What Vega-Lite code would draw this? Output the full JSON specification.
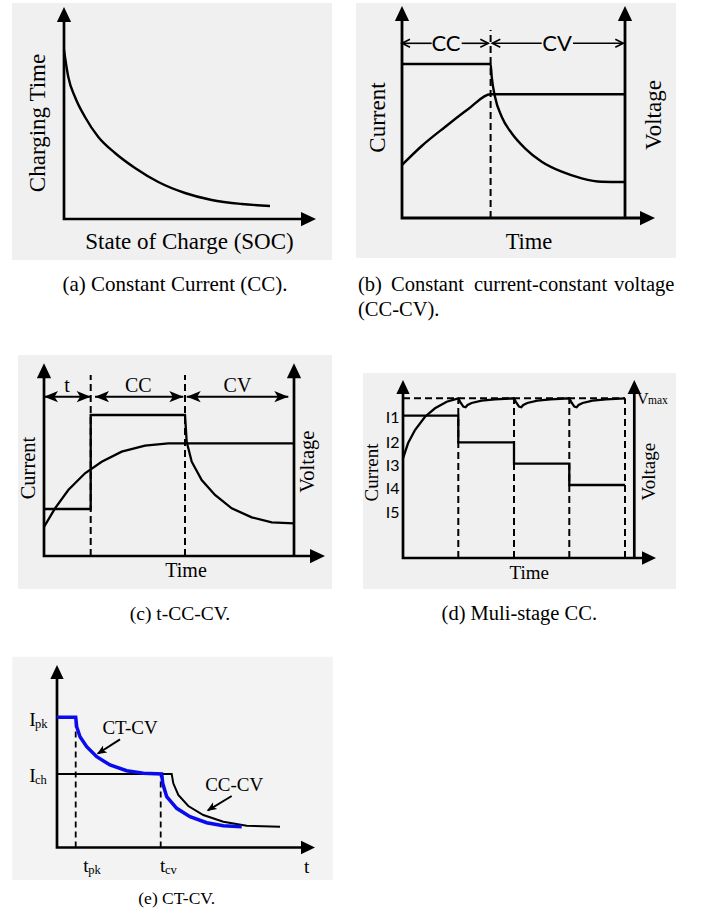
{
"$schema": "https://vega.github.io/schema/vega-lite/v6.json",
"padding": 0,
"spacing": 0,
"bounds": "flush",
"columns": 2,
"background": "white",
"config": {"view": {"stroke": null}, "concat": {"spacing": 0}, "text": {"font": "Liberation Serif", "color": "black"}},
"concat": [
{
"width": 351, "height": 320,
"encoding": {"x": {"field": "x", "type": "quantitative", "scale": {"domain": [-32, 143.5], "nice": false, "zero": false}, "axis": null},
             "y": {"field": "y", "type": "quantitative", "scale": {"domain": [-50.5, 109.5], "nice": false, "zero": false}, "axis": null}},
"layer": [
 {"data": {"values": [{"x": -26, "y": 108, "x2": 134, "y2": -20.5}]}, "mark": {"type": "rect", "color": "#f0f0f0"}, "encoding": {"x2": {"field": "x2"}, "y2": {"field": "y2"}}},
 {"data": {"values": [{"s": "ax", "x": 0, "y": 101}, {"s": "ax", "x": 0, "y": 0}, {"s": "ax", "x": 121, "y": 0}]}, "mark": {"type": "line", "color": "black", "strokeWidth": 2.7}, "encoding": {"detail": {"field": "s"}, "order": {"value": null}}},
 {"data": {"values": [{"s": "c", "x": 0, "y": 84.5}, {"s": "c", "x": 0.5, "y": 81}, {"s": "c", "x": 2.15, "y": 71}, {"s": "c", "x": 5.5, "y": 61}, {"s": "c", "x": 10.5, "y": 51}, {"s": "c", "x": 17.15, "y": 41}, {"s": "c", "x": 25.5, "y": 33}, {"s": "c", "x": 35.5, "y": 25.5}, {"s": "c", "x": 47.15, "y": 18.5}, {"s": "c", "x": 60.5, "y": 13}, {"s": "c", "x": 73.85, "y": 9.5}, {"s": "c", "x": 88.85, "y": 7.5}, {"s": "c", "x": 103, "y": 6.5}]}, "mark": {"type": "line", "color": "black", "strokeWidth": 2.4, "interpolate": "monotone"}, "encoding": {"detail": {"field": "s"}, "order": {"value": null}}},
 {"data": {"values": [{"x": 0, "y": 106}]}, "mark": {"type": "point", "shape": "M0,0L-0.95,2L0.95,2Z", "size": 225, "filled": true, "color": "black", "opacity": 1}},
 {"data": {"values": [{"x": 126, "y": 0}]}, "mark": {"type": "point", "shape": "M0,0L-2,-0.95L-2,0.95Z", "size": 225, "filled": true, "color": "black", "opacity": 1}},
 {"data": {"values": [{"x": -13, "y": 48, "t": "Charging Time"}]}, "mark": {"type": "text", "fontSize": 23, "angle": 270, "align": "center", "baseline": "middle"}, "encoding": {"text": {"field": "t"}}},
 {"data": {"values": [{"x": 62.75, "y": -11.5, "t": "State of Charge (SOC)"}]}, "mark": {"type": "text", "fontSize": 23, "align": "center", "baseline": "middle"}, "encoding": {"text": {"field": "t"}}},
 {"data": {"values": [{"x": 55.5, "y": -33, "t": "(a) Constant Current (CC)."}]}, "mark": {"type": "text", "fontSize": 21, "align": "center", "baseline": "middle"}, "encoding": {"text": {"field": "t"}}}
]
},
{
"width": 351, "height": 320,
"encoding": {"x": {"field": "x", "type": "quantitative", "scale": {"domain": [-25.5, 150], "nice": false, "zero": false}, "axis": null},
             "y": {"field": "y", "type": "quantitative", "scale": {"domain": [-51, 109], "nice": false, "zero": false}, "axis": null}},
"layer": [
 {"data": {"values": [{"x": -23, "y": 107.5, "x2": 137, "y2": -20}]}, "mark": {"type": "rect", "color": "#f0f0f0"}, "encoding": {"x2": {"field": "x2"}, "y2": {"field": "y2"}}},
 {"data": {"values": [{"s": "d", "x": 44.3, "y": 0}, {"s": "d", "x": 44.3, "y": 94}]}, "mark": {"type": "line", "color": "black", "strokeWidth": 2, "strokeDash": [7, 4]}, "encoding": {"detail": {"field": "s"}, "order": {"value": null}}},
 {"data": {"values": [{"s": "L", "x": 0, "y": 101}, {"s": "L", "x": 0, "y": 0}, {"s": "L", "x": 121.5, "y": 0}, {"s": "R", "x": 111.5, "y": 0}, {"s": "R", "x": 111.5, "y": 101}]}, "mark": {"type": "line", "color": "black", "strokeWidth": 2.8}, "encoding": {"detail": {"field": "s"}, "order": {"value": null}}},
 {"data": {"values": [
   {"s": "I", "x": 0, "y": 77}, {"s": "I", "x": 44.3, "y": 77}, {"s": "I", "x": 44.85, "y": 70.65}, {"s": "I", "x": 46.5, "y": 60.65}, {"s": "I", "x": 49.85, "y": 50.65}, {"s": "I", "x": 54.85, "y": 42.35}, {"s": "I", "x": 61.5, "y": 34.85}, {"s": "I", "x": 69.85, "y": 28.15}, {"s": "I", "x": 79.85, "y": 23.15}, {"s": "I", "x": 89.85, "y": 19.85}, {"s": "I", "x": 99.85, "y": 18.15}, {"s": "I", "x": 111.5, "y": 18},
   {"s": "V", "x": 0, "y": 26.5}, {"s": "V", "x": 9.85, "y": 36}, {"s": "V", "x": 21.5, "y": 45.5}, {"s": "V", "x": 33.15, "y": 54.5}, {"s": "V", "x": 44.3, "y": 61.85}, {"s": "V", "x": 111.5, "y": 61.85}]},
  "mark": {"type": "line", "color": "black", "strokeWidth": 2.4, "interpolate": "monotone"}, "encoding": {"detail": {"field": "s"}, "order": {"value": null}}},
 {"data": {"values": [{"s": "a1", "x": 0, "y": 87.35}, {"s": "a1", "x": 14.85, "y": 87.35}, {"s": "a2", "x": 29.85, "y": 87.35}, {"s": "a2", "x": 43.15, "y": 87.35}, {"s": "a3", "x": 45.15, "y": 87.35}, {"s": "a3", "x": 69.85, "y": 87.35}, {"s": "a4", "x": 85.5, "y": 87.35}, {"s": "a4", "x": 110.65, "y": 87.35}]}, "mark": {"type": "line", "color": "black", "strokeWidth": 1.6}, "encoding": {"detail": {"field": "s"}, "order": {"value": null}}},
 {"data": {"values": [{"x": 0, "y": 87.35}, {"x": 45.15, "y": 87.35}]}, "mark": {"type": "point", "shape": "M2,-1L0,0L2,1", "size": 64, "filled": false, "color": "black", "strokeWidth": 1.6, "opacity": 1}},
 {"data": {"values": [{"x": 43.15, "y": 87.35}, {"x": 110.65, "y": 87.35}]}, "mark": {"type": "point", "shape": "M-2,-1L0,0L-2,1", "size": 64, "filled": false, "color": "black", "strokeWidth": 1.6, "opacity": 1}},
 {"data": {"values": [{"x": 0, "y": 106}, {"x": 111.5, "y": 106}]}, "mark": {"type": "point", "shape": "M0,0L-0.95,2L0.95,2Z", "size": 225, "filled": true, "color": "black", "opacity": 1}},
 {"data": {"values": [{"x": 126.5, "y": 0}]}, "mark": {"type": "point", "shape": "M0,0L-2,-0.95L-2,0.95Z", "size": 225, "filled": true, "color": "black", "opacity": 1}},
 {"data": {"values": [{"x": -12, "y": 50.25, "t": "Current"}, {"x": 126, "y": 51.5, "t": "Voltage"}]}, "mark": {"type": "text", "fontSize": 23, "angle": 270, "align": "center", "baseline": "middle"}, "encoding": {"text": {"field": "t"}}},
 {"data": {"values": [{"x": 63.5, "y": -11.85, "t": "Time"}]}, "mark": {"type": "text", "fontSize": 22.5, "align": "center", "baseline": "middle"}, "encoding": {"text": {"field": "t"}}},
 {"data": {"values": [{"x": 22, "y": 87.1, "t": "CC"}, {"x": 77.5, "y": 87.1, "t": "CV"}]}, "mark": {"type": "text", "font": "Lato", "fontSize": 22, "align": "center", "baseline": "middle"}, "encoding": {"text": {"field": "t"}}},
 {"data": {"values": [{"x": -22, "y": -33.5, "t": "(b)"}, {"x": -5.5, "y": -33.5, "t": "Constant"}, {"x": 36, "y": -33.5, "t": "current-constant"}, {"x": 106, "y": -33.5, "t": "voltage"}, {"x": -22, "y": -46, "t": "(CC-CV)."}]}, "mark": {"type": "text", "fontSize": 20.5, "align": "left", "baseline": "middle"}, "encoding": {"text": {"field": "t"}}}
]
},
{
"width": 351, "height": 320,
"encoding": {"x": {"field": "x", "type": "quantitative", "scale": {"domain": [-22, 153.5], "nice": false, "zero": false}, "axis": null},
             "y": {"field": "y", "type": "quantitative", "scale": {"domain": [-42, 118], "nice": false, "zero": false}, "axis": null}},
"layer": [
 {"data": {"values": [{"x": -13, "y": 100.5, "x2": 144, "y2": -16.5}]}, "mark": {"type": "rect", "color": "#f0f0f0"}, "encoding": {"x2": {"field": "x2"}, "y2": {"field": "y2"}}},
 {"data": {"values": [{"s": "d1", "x": 23.35, "y": 0}, {"s": "d1", "x": 23.35, "y": 90.5}, {"s": "d2", "x": 70.5, "y": 0}, {"s": "d2", "x": 70.5, "y": 90.5}]}, "mark": {"type": "line", "color": "black", "strokeWidth": 2, "strokeDash": [7, 4]}, "encoding": {"detail": {"field": "s"}, "order": {"value": null}}},
 {"data": {"values": [{"s": "L", "x": 0, "y": 91}, {"s": "L", "x": 0, "y": 0}, {"s": "L", "x": 135, "y": 0}, {"s": "R", "x": 125, "y": 0}, {"s": "R", "x": 125, "y": 91}]}, "mark": {"type": "line", "color": "black", "strokeWidth": 2.7}, "encoding": {"detail": {"field": "s"}, "order": {"value": null}}},
 {"data": {"values": [
   {"s": "I", "x": 0, "y": 23.5}, {"s": "I", "x": 23.35, "y": 23.5}, {"s": "I", "x": 23.35, "y": 70.5}, {"s": "I", "x": 70.5, "y": 70.5}, {"s": "I", "x": 71.35, "y": 57.15}, {"s": "I", "x": 73.85, "y": 47.15}, {"s": "I", "x": 78.85, "y": 38}, {"s": "I", "x": 85.5, "y": 30.5}, {"s": "I", "x": 93.85, "y": 23.85}, {"s": "I", "x": 103.85, "y": 19.35}, {"s": "I", "x": 113.85, "y": 16.85}, {"s": "I", "x": 125, "y": 16.35},
   {"s": "V", "x": 0, "y": 14.5}, {"s": "V", "x": 5.5, "y": 23.85}, {"s": "V", "x": 12.15, "y": 33}, {"s": "V", "x": 20.5, "y": 41.35}, {"s": "V", "x": 28.85, "y": 47.15}, {"s": "V", "x": 38.85, "y": 52.15}, {"s": "V", "x": 50.5, "y": 55.15}, {"s": "V", "x": 62.15, "y": 56.35}, {"s": "V", "x": 70.5, "y": 56.35}, {"s": "V", "x": 125, "y": 56.35}]},
  "mark": {"type": "line", "color": "black", "strokeWidth": 2.3}, "encoding": {"detail": {"field": "s"}, "order": {"value": null}}},
 {"data": {"values": [{"s": "a1", "x": 0, "y": 79.65}, {"s": "a1", "x": 23.35, "y": 79.65}, {"s": "a2", "x": 25.5, "y": 79.65}, {"s": "a2", "x": 69.65, "y": 79.65}, {"s": "a3", "x": 71.35, "y": 79.65}, {"s": "a3", "x": 122.15, "y": 79.65}]}, "mark": {"type": "line", "color": "black", "strokeWidth": 2}, "encoding": {"detail": {"field": "s"}, "order": {"value": null}}},
 {"data": {"values": [{"x": 0, "y": 79.65}, {"x": 25.5, "y": 79.65}, {"x": 71.35, "y": 79.65}]}, "mark": {"type": "point", "shape": "M0,0L2,-0.8L1.5,0L2,0.8Z", "size": 196, "filled": true, "color": "black", "opacity": 1}},
 {"data": {"values": [{"x": 23.35, "y": 79.65}, {"x": 69.65, "y": 79.65}, {"x": 122.15, "y": 79.65}]}, "mark": {"type": "point", "shape": "M0,0L-2,-0.8L-1.5,0L-2,0.8Z", "size": 196, "filled": true, "color": "black", "opacity": 1}},
 {"data": {"values": [{"x": 0, "y": 96.35}, {"x": 125, "y": 96.35}]}, "mark": {"type": "point", "shape": "M0,0L-0.95,2L0.95,2Z", "size": 225, "filled": true, "color": "black", "opacity": 1}},
 {"data": {"values": [{"x": 140.5, "y": 0}]}, "mark": {"type": "point", "shape": "M0,0L-2,-0.95L-2,0.95Z", "size": 225, "filled": true, "color": "black", "opacity": 1}},
 {"data": {"values": [{"x": -7.5, "y": 44, "t": "Current"}, {"x": 132, "y": 47.15, "t": "Voltage"}]}, "mark": {"type": "text", "fontSize": 20.5, "angle": 270, "align": "center", "baseline": "middle"}, "encoding": {"text": {"field": "t"}}},
 {"data": {"values": [{"x": 71, "y": -7.5, "t": "Time"}]}, "mark": {"type": "text", "fontSize": 20, "align": "center", "baseline": "middle"}, "encoding": {"text": {"field": "t"}}},
 {"data": {"values": [{"x": 11.5, "y": 81.85, "t": "t"}, {"x": 47.15, "y": 81.85, "t": "CC"}, {"x": 96.75, "y": 81.85, "t": "CV"}]}, "mark": {"type": "text", "fontSize": 20, "align": "center", "baseline": "alphabetic"}, "encoding": {"text": {"field": "t"}}},
 {"data": {"values": [{"x": 68, "y": -29, "t": "(c) t-CC-CV."}]}, "mark": {"type": "text", "fontSize": 19.5, "align": "center", "baseline": "middle"}, "encoding": {"text": {"field": "t"}}}
]
},
{
"width": 351, "height": 320,
"encoding": {"x": {"field": "x", "type": "quantitative", "scale": {"domain": [-26, 149.5], "nice": false, "zero": false}, "axis": null},
             "y": {"field": "y", "type": "quantitative", "scale": {"domain": [-41, 119], "nice": false, "zero": false}, "axis": null}},
"layer": [
 {"data": {"values": [{"x": -20, "y": 92.5, "x2": 136.5, "y2": -15.5}]}, "mark": {"type": "rect", "color": "#f0f0f0"}, "encoding": {"x2": {"field": "x2"}, "y2": {"field": "y2"}}},
 {"data": {"values": [{"s": "d1", "x": 27.65, "y": 0}, {"s": "d1", "x": 27.65, "y": 79.85}, {"s": "d2", "x": 55.5, "y": 0}, {"s": "d2", "x": 55.5, "y": 79.85}, {"s": "d3", "x": 83.15, "y": 0}, {"s": "d3", "x": 83.15, "y": 79.85}, {"s": "d4", "x": 111, "y": 0}, {"s": "d4", "x": 111, "y": 79.85}, {"s": "vm", "x": 0, "y": 79.85}, {"s": "vm", "x": 111, "y": 79.85}]}, "mark": {"type": "line", "color": "black", "strokeWidth": 2, "strokeDash": [7, 4]}, "encoding": {"detail": {"field": "s"}, "order": {"value": null}}},
 {"data": {"values": [{"s": "L", "x": 0, "y": 85}, {"s": "L", "x": 0, "y": 0}, {"s": "L", "x": 122, "y": 0}, {"s": "R", "x": 115.65, "y": 0}, {"s": "R", "x": 115.65, "y": 85}]}, "mark": {"type": "line", "color": "black", "strokeWidth": 2.7}, "encoding": {"detail": {"field": "s"}, "order": {"value": null}}},
 {"data": {"values": [
   {"s": "I", "x": 0, "y": 71.15}, {"s": "I", "x": 27.65, "y": 71.15}, {"s": "I", "x": 27.65, "y": 57.85}, {"s": "I", "x": 55.5, "y": 57.85}, {"s": "I", "x": 55.5, "y": 47.15}, {"s": "I", "x": 83.15, "y": 47.15}, {"s": "I", "x": 83.15, "y": 36.5}, {"s": "I", "x": 111, "y": 36.5},
   {"s": "V", "x": 0, "y": 49.85}, {"s": "V", "x": 2.5, "y": 57.35}, {"s": "V", "x": 6, "y": 64}, {"s": "V", "x": 11, "y": 70.65}, {"s": "V", "x": 16, "y": 74.85}, {"s": "V", "x": 21.85, "y": 78.15}, {"s": "V", "x": 27.65, "y": 79.85},
   {"s": "V", "x": 28.5, "y": 78.2}, {"s": "V", "x": 30.15, "y": 75.7}, {"s": "V", "x": 31.3, "y": 75.35}, {"s": "V", "x": 32.3, "y": 76.5}, {"s": "V", "x": 34.3, "y": 77.5}, {"s": "V", "x": 39.3, "y": 78.7}, {"s": "V", "x": 46, "y": 79.35}, {"s": "V", "x": 55.5, "y": 79.85},
   {"s": "V", "x": 56.35, "y": 78.2}, {"s": "V", "x": 58, "y": 75.7}, {"s": "V", "x": 59.15, "y": 75.35}, {"s": "V", "x": 60.15, "y": 76.5}, {"s": "V", "x": 62.15, "y": 77.5}, {"s": "V", "x": 67.15, "y": 78.7}, {"s": "V", "x": 73.85, "y": 79.35}, {"s": "V", "x": 83.15, "y": 79.85},
   {"s": "V", "x": 84, "y": 78.2}, {"s": "V", "x": 85.65, "y": 75.7}, {"s": "V", "x": 86.8, "y": 75.35}, {"s": "V", "x": 87.8, "y": 76.5}, {"s": "V", "x": 89.8, "y": 77.5}, {"s": "V", "x": 94.8, "y": 78.7}, {"s": "V", "x": 101.5, "y": 79.35}, {"s": "V", "x": 111, "y": 79.85}]},
  "mark": {"type": "line", "color": "black", "strokeWidth": 2.3}, "encoding": {"detail": {"field": "s"}, "order": {"value": null}}},
 {"data": {"values": [{"x": 0, "y": 89}, {"x": 115.65, "y": 89}]}, "mark": {"type": "point", "shape": "M0,0L-0.95,2L0.95,2Z", "size": 196, "filled": true, "color": "black", "opacity": 1}},
 {"data": {"values": [{"x": 126.5, "y": 0}]}, "mark": {"type": "point", "shape": "M0,0L-2,-0.95L-2,0.95Z", "size": 196, "filled": true, "color": "black", "opacity": 1}},
 {"data": {"values": [{"x": -15.6, "y": 42.75, "t": "Current"}, {"x": 122.75, "y": 43.15, "t": "Voltage"}]}, "mark": {"type": "text", "fontSize": 19, "angle": 270, "align": "center", "baseline": "middle"}, "encoding": {"text": {"field": "t"}}},
 {"data": {"values": [{"x": 63.15, "y": -7.25, "t": "Time"}]}, "mark": {"type": "text", "fontSize": 19, "align": "center", "baseline": "middle"}, "encoding": {"text": {"field": "t"}}},
 {"data": {"values": [{"x": -5.15, "y": 70.25, "t": "I1"}, {"x": -5.15, "y": 57.75, "t": "I2"}, {"x": -5.15, "y": 46.1, "t": "I3"}, {"x": -5.15, "y": 34.5, "t": "I4"}, {"x": -5.15, "y": 22.75, "t": "I5"}]}, "mark": {"type": "text", "font": "Lato", "fontSize": 16, "align": "center", "baseline": "middle"}, "encoding": {"text": {"field": "t"}}},
 {"data": {"values": [{"x": 117, "y": 77, "t": "V"}]}, "mark": {"type": "text", "fontSize": 16, "align": "left", "baseline": "alphabetic"}, "encoding": {"text": {"field": "t"}}},
 {"data": {"values": [{"x": 122.5, "y": 77, "t": "max"}]}, "mark": {"type": "text", "fontSize": 11.5, "align": "left", "baseline": "alphabetic"}, "encoding": {"text": {"field": "t"}}},
 {"data": {"values": [{"x": 58.15, "y": -28.1, "t": "(d) Muli-stage CC."}]}, "mark": {"type": "text", "fontSize": 20.5, "align": "center", "baseline": "middle"}, "encoding": {"text": {"field": "t"}}}
]
},
{
"width": 351, "height": 283,
"encoding": {"x": {"field": "x", "type": "quantitative", "scale": {"domain": [-28.5, 147], "nice": false, "zero": false}, "axis": null},
             "y": {"field": "y", "type": "quantitative", "scale": {"domain": [-37.75, 103.75], "nice": false, "zero": false}, "axis": null}},
"layer": [
 {"data": {"values": [{"x": -22.35, "y": 95.4, "x2": 137.85, "y2": -16.25}]}, "mark": {"type": "rect", "color": "#f3f3f3"}, "encoding": {"x2": {"field": "x2"}, "y2": {"field": "y2"}}},
 {"data": {"values": [{"s": "d1", "x": 9.35, "y": 0}, {"s": "d1", "x": 9.35, "y": 65.1}, {"s": "d2", "x": 51.85, "y": 0}, {"s": "d2", "x": 51.85, "y": 36.75}]}, "mark": {"type": "line", "color": "black", "strokeWidth": 1.8, "strokeDash": [6, 4]}, "encoding": {"detail": {"field": "s"}, "order": {"value": null}}},
 {"data": {"values": [{"s": "L", "x": 0, "y": 87}, {"s": "L", "x": 0, "y": 0}, {"s": "L", "x": 124, "y": 0}]}, "mark": {"type": "line", "color": "black", "strokeWidth": 2.7}, "encoding": {"detail": {"field": "s"}, "order": {"value": null}}},
 {"data": {"values": [{"s": "B", "x": 0, "y": 36.75}, {"s": "B", "x": 57.35, "y": 36.75}, {"s": "B", "x": 58.15, "y": 32.1}, {"s": "B", "x": 60.65, "y": 26.25}, {"s": "B", "x": 65.65, "y": 20.75}, {"s": "B", "x": 73.15, "y": 16.25}, {"s": "B", "x": 83.15, "y": 12.9}, {"s": "B", "x": 94.85, "y": 10.9}, {"s": "B", "x": 111.5, "y": 10.4},
   {"s": "a1", "x": 31.5, "y": 54.1}, {"s": "a1", "x": 20.5, "y": 47}, {"s": "a2", "x": 87.35, "y": 25.75}, {"s": "a2", "x": 75.5, "y": 18.6}]}, "mark": {"type": "line", "color": "black", "strokeWidth": 2}, "encoding": {"detail": {"field": "s"}, "order": {"value": null}}},
 {"data": {"values": [{"s": "C", "x": 0, "y": 65.1}, {"s": "C", "x": 9.35, "y": 65.1}, {"s": "C", "x": 9.85, "y": 60.4}, {"s": "C", "x": 11.5, "y": 55.4}, {"s": "C", "x": 14.85, "y": 50.4}, {"s": "C", "x": 19.85, "y": 45.4}, {"s": "C", "x": 26.5, "y": 41.25}, {"s": "C", "x": 34.85, "y": 38.4}, {"s": "C", "x": 43.15, "y": 37.1}, {"s": "C", "x": 52.35, "y": 36.75}, {"s": "C", "x": 52.85, "y": 32.1}, {"s": "C", "x": 54.85, "y": 25.4}, {"s": "C", "x": 59.85, "y": 19.6}, {"s": "C", "x": 66.5, "y": 15.4}, {"s": "C", "x": 74.85, "y": 12.4}, {"s": "C", "x": 83.15, "y": 10.9}, {"s": "C", "x": 92.35, "y": 10.4}]}, "mark": {"type": "line", "color": "#0a0aee", "strokeWidth": 3.5}, "encoding": {"detail": {"field": "s"}, "order": {"value": null}}},
 {"data": {"values": [{"x": 19.85, "y": 46.6}, {"x": 74.85, "y": 18.25}]}, "mark": {"type": "point", "shape": "M0,0L-2,-0.8L-1.5,0L-2,0.8Z", "size": 100, "angle": 148, "filled": true, "color": "black", "opacity": 1}},
 {"data": {"values": [{"x": 0, "y": 91.25}]}, "mark": {"type": "point", "shape": "M0,0L-0.95,2L0.95,2Z", "size": 196, "filled": true, "color": "black", "opacity": 1}},
 {"data": {"values": [{"x": 129, "y": 0}]}, "mark": {"type": "point", "shape": "M0,0L-2,-0.95L-2,0.95Z", "size": 196, "filled": true, "color": "black", "opacity": 1}},
 {"data": {"values": [{"x": -13.85, "y": 60.75, "t": "I"}, {"x": -13.85, "y": 32.75, "t": "I"}, {"x": 13.15, "y": -12.1, "t": "t"}, {"x": 51.5, "y": -12.1, "t": "t"}, {"x": 123.5, "y": -12.75, "t": "t"}]}, "mark": {"type": "text", "fontSize": 19.5, "align": "left", "baseline": "alphabetic"}, "encoding": {"text": {"field": "t"}}},
 {"data": {"values": [{"x": -11, "y": 59.75, "t": "pk"}, {"x": -11, "y": 31.75, "t": "ch"}, {"x": 15.65, "y": -13.25, "t": "pk"}, {"x": 54, "y": -13.25, "t": "cv"}]}, "mark": {"type": "text", "fontSize": 12.5, "align": "left", "baseline": "alphabetic"}, "encoding": {"text": {"field": "t"}}},
 {"data": {"values": [{"x": 36.5, "y": 59.75, "t": "CT-CV"}, {"x": 88.6, "y": 31.25, "t": "CC-CV"}]}, "mark": {"type": "text", "fontSize": 19, "align": "center", "baseline": "middle"}, "encoding": {"text": {"field": "t"}}},
 {"data": {"values": [{"x": 59.85, "y": -25.75, "t": "(e) CT-CV."}]}, "mark": {"type": "text", "fontSize": 17.5, "align": "center", "baseline": "middle"}, "encoding": {"text": {"field": "t"}}}
]
}
]
}
